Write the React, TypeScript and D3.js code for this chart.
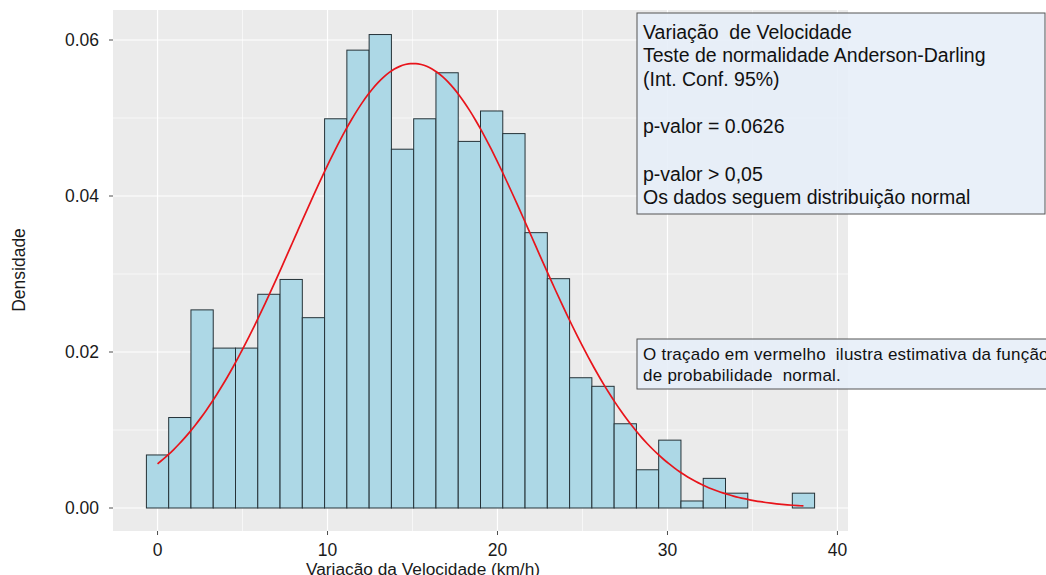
import React from "react";
import * as d3 from "d3";

// Histogram: 30 bins, data range 0..38
const dataMin = 0;
const dataMax = 38;
const binCount = 30;
const densities = [
  0.0068, 0.0116, 0.0254, 0.0205, 0.0205, 0.0274, 0.0293, 0.0244, 0.0499, 0.0587,
  0.0607, 0.046, 0.0499, 0.0558, 0.047, 0.0509, 0.048, 0.0353, 0.0294, 0.0167,
  0.0156, 0.0108, 0.0049, 0.0087, 0.0009, 0.0038, 0.0019, 0, 0, 0.0019,
];
// Normal fit parameters
const fitMean = 15.05;
const fitSd = 7.0;

const xTicks = [0, 10, 20, 30, 40];
const xMinor = [5, 15, 25, 35];
const yTicks = [0, 0.02, 0.04, 0.06];
const yMinor = [0.01, 0.03, 0.05];

const box1Lines = [
  "Variação  de Velocidade",
  "Teste de normalidade Anderson-Darling",
  "(Int. Conf. 95%)",
  "",
  "p-valor = 0.0626",
  "",
  "p-valor > 0,05",
  "Os dados seguem distribuição normal",
];
const box2Lines = [
  "O traçado em vermelho  ilustra estimativa da função",
  "de probabilidade  normal.",
];

const W = 1046;
const H = 575;
const panel = { left: 113, right: 848, top: 10, bottom: 531 };
const FONT = "'Liberation Sans', Arial, sans-serif";

export default function App() {
  const binW = (dataMax - dataMin) / (binCount - 1);
  const start = dataMin - binW / 2;
  const bins = densities.map((d, i) => ({ x0: start + i * binW, x1: start + (i + 1) * binW, d }));
  const lo = start;
  const hi = start + binCount * binW;
  const pad = (hi - lo) * 0.05;
  const x = d3.scaleLinear().domain([lo - pad, hi + pad]).range([panel.left, panel.right]);
  const y = d3.scaleLinear().domain([0, 0.06]).range([508, 40]);

  const n = 120;
  const curve = d3.range(n + 1).map((i) => {
    const v = dataMin + ((dataMax - dataMin) * i) / n;
    const dens = Math.exp(-((v - fitMean) ** 2) / (2 * fitSd * fitSd)) / (fitSd * Math.sqrt(2 * Math.PI));
    return [v, dens] as [number, number];
  });
  const line = d3.line<[number, number]>().x((p) => x(p[0])).y((p) => y(p[1])).curve(d3.curveMonotoneX);

  return (
    <svg width={W} height={H} style={{ position: "absolute", left: 0, top: 0, background: "#fff" }} fontFamily={FONT}>
      <rect x={panel.left} y={panel.top} width={panel.right - panel.left} height={panel.bottom - panel.top} fill="#EBEBEB" />
      {yMinor.map((t) => (
        <line key={"ym" + t} x1={panel.left} x2={panel.right} y1={y(t)} y2={y(t)} stroke="#fff" strokeWidth={0.6} />
      ))}
      {xMinor.map((t) => (
        <line key={"xm" + t} x1={x(t)} x2={x(t)} y1={panel.top} y2={panel.bottom} stroke="#fff" strokeWidth={0.6} />
      ))}
      {yTicks.map((t) => (
        <line key={"yM" + t} x1={panel.left} x2={panel.right} y1={y(t)} y2={y(t)} stroke="#fff" strokeWidth={1.2} />
      ))}
      {xTicks.map((t) => (
        <line key={"xM" + t} x1={x(t)} x2={x(t)} y1={panel.top} y2={panel.bottom} stroke="#fff" strokeWidth={1.2} />
      ))}
      {bins.map((b, i) =>
        b.d > 0 ? (
          <rect
            key={"b" + i}
            x={x(b.x0)}
            y={y(b.d)}
            width={x(b.x1) - x(b.x0)}
            height={y(0) - y(b.d)}
            fill="#ADD8E6"
            stroke="#253238"
            strokeWidth={1}
          />
        ) : null
      )}
      <path d={line(curve) || ""} fill="none" stroke="#E8141B" strokeWidth={1.7} />
      {yTicks.map((t) => (
        <g key={"yt" + t}>
          <line x1={panel.left - 4} x2={panel.left} y1={y(t)} y2={y(t)} stroke="#4d4d4d" strokeWidth={1} />
          <text x={99} y={y(t)} dy="0.35em" textAnchor="end" fontSize={17.5} fill="#1a1a1a">
            {d3.format(".2f")(t)}
          </text>
        </g>
      ))}
      {xTicks.map((t) => (
        <g key={"xt" + t}>
          <line x1={x(t)} x2={x(t)} y1={panel.bottom} y2={panel.bottom + 4} stroke="#4d4d4d" strokeWidth={1} />
          <text x={x(t)} y={556} textAnchor="middle" fontSize={17.5} fill="#1a1a1a">
            {t}
          </text>
        </g>
      ))}
      <text x={423} y={574.5} textAnchor="middle" fontSize={17.3} fill="#1a1a1a">
        Variação da Velocidade (km/h)
      </text>
      <text transform="translate(25,270) rotate(-90)" textAnchor="middle" fontSize={17.5} fill="#1a1a1a">
        Densidade
      </text>

      <rect x={637} y={13} width={408} height={201} fill="#E6EEF8" fillOpacity={0.88} stroke="#555" strokeWidth={1} />
      {box1Lines.map((s, i) => (
        <text key={"l1" + i} x={643} y={38.5 + i * 23.7} fontSize={19.5} fill="#111" style={{ whiteSpace: "pre" }}>
          {s}
        </text>
      ))}
      <rect x={637} y={339} width={420} height={50} fill="#E6EEF8" fillOpacity={0.88} stroke="#555" strokeWidth={1} />
      {box2Lines.map((s, i) => (
        <text key={"l2" + i} x={643} y={360 + i * 21} fontSize={17} letterSpacing={0.25} fill="#111" style={{ whiteSpace: "pre" }}>
          {s}
        </text>
      ))}
    </svg>
  );
}
